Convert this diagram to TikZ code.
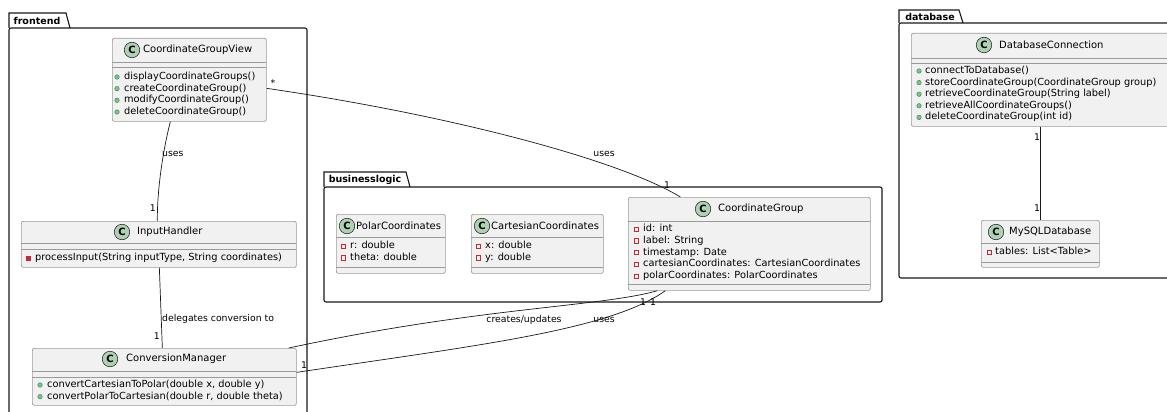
\documentclass[tikz,border=0pt]{standalone}
\usepackage{fontspec}
\setmainfont{DejaVu Sans}
\usetikzlibrary{calc}

\definecolor{clsfill}{HTML}{F1F1F1}
\definecolor{clsline}{HTML}{9A9A9A}
\definecolor{spotfill}{HTML}{ADD1B2}
\definecolor{pubfill}{HTML}{84BE84}
\definecolor{publine}{HTML}{038048}
\definecolor{privline}{HTML}{C82930}
\definecolor{linea}{HTML}{181818}

\begin{document}
\begin{tikzpicture}[x=1pt, y=-1pt,
    paquete/.style={draw=linea, line width=1.1},
    tablbl/.style={inner sep=0, font=\bfseries\fontsize{9.5}{11}\selectfont},
    clase/.style={draw=clsline, fill=clsfill, rounded corners=2, line width=0.7,
        inner sep=0, anchor=north west},
    sep/.style={draw=clsline, line width=0.7},
    spot/.style={circle, fill=spotfill, draw=linea, line width=0.5, minimum size=15.5,
        inner sep=0, font=\bfseries\fontsize{10}{10}\selectfont},
    titulo/.style={anchor=west, inner sep=0, font=\fontsize{10}{12}\selectfont},
    miembro/.style={anchor=west, inner sep=0, text height=7pt, text depth=2pt,
        font=\fontsize{9.8}{11}\selectfont},
    pub/.style={circle, fill=pubfill, draw=publine, line width=0.3, minimum size=4.6, inner sep=0},
    privf/.style={rectangle, draw=privline, line width=0.6, minimum size=4.4, inner sep=0},
    privm/.style={rectangle, fill=privline, draw=privline, line width=0.3, minimum size=4.6, inner sep=0},
    rel/.style={draw=linea, line width=0.7},
    lbl/.style={inner sep=0, font=\fontsize{9.3}{10}\selectfont}]

\useasboundingbox (0,0) rectangle (1167,412);

% Paquetes
\draw[paquete] (9,28) -- (9,13) -- (66,13) -- (70,28);
\draw[paquete, rounded corners=2] (9,430) -- (9,28) -- (307,28) -- (307,430);
\node[tablbl] (tabfe) at (37,21) {frontend};

\draw[paquete] (324,187) -- (324,172) -- (406,172) -- (410,187);
\draw[paquete, rounded corners=2] (324,187) rectangle (882,302);
\node[tablbl] (tabbl) at (365,180) {businesslogic};

\draw[paquete] (899,23) -- (899,10) -- (959,10) -- (963,23);
\draw[paquete, rounded corners=2] (1180,278) -- (899,278) -- (899,23) -- (1180,23);
\node[tablbl] (tabdb) at (930,17) {database};

% frontend
\node[clase, minimum width=154, minimum height=83] (cgv) at (112,38) {};
\draw[sep] (112,62) -- (266,62) (112,67) -- (266,67);
\node[spot] at (132,50) {C};
\node[titulo] at (143,50) {CoordinateGroupView};
\foreach \m [count=\i from 0] in {displayCoordinateGroups(),createCoordinateGroup(),modifyCoordinateGroup(),deleteCoordinateGroup()} {
    \node[pub] at (117,77+11.67*\i) {};
    \node[miembro] at (124,77+11.67*\i) {\m};
}

\node[clase, minimum width=275, minimum height=46] (ih) at (21,221) {};
\draw[sep] (21,243) -- (296,243) (21,249) -- (296,249);
\node[spot] at (122,232) {C};
\node[titulo] at (137,232) {InputHandler};
\node[privm] at (28,258) {};
\node[miembro] at (35,258) {processInput(String inputType, String coordinates)};

\node[clase, minimum width=264, minimum height=57] (cm) at (32,348) {};
\draw[sep] (32,371) -- (296,371) (32,377) -- (296,377);
\node[spot] at (110,359) {C};
\node[titulo] at (126,359) {ConversionManager};
\foreach \m [count=\i from 0] in {{convertCartesianToPolar(double x, double y)},{convertPolarToCartesian(double r, double theta)}} {
    \node[pub] at (40,385+11.67*\i) {};
    \node[miembro] at (47,385+11.67*\i) {\m};
}

% businesslogic
\node[clase, minimum width=109, minimum height=59] (pc) at (336,214) {};
\draw[sep] (336,237) -- (445,237) (336,267) -- (445,267);
\node[spot] at (347,226) {C};
\node[titulo] at (356,226) {PolarCoordinates};
\foreach \m [count=\i from 0] in {r: double,theta: double} {
    \node[privf] at (343,246+11.67*\i) {};
    \node[miembro] at (350,246+11.67*\i) {\m};
}

\node[clase, minimum width=132, minimum height=59] (cc) at (471,214) {};
\draw[sep] (471,237) -- (603,237) (471,267) -- (603,267);
\node[spot] at (482,226) {C};
\node[titulo] at (491,226) {CartesianCoordinates};
\foreach \m [count=\i from 0] in {x: double,y: double} {
    \node[privf] at (478,246+11.67*\i) {};
    \node[miembro] at (485,246+11.67*\i) {\m};
}

\node[clase, minimum width=242, minimum height=93] (cg) at (628,197) {};
\draw[sep] (628,221) -- (870,221) (628,284) -- (870,284);
\node[spot] at (703,209) {C};
\node[titulo] at (718,209) {CoordinateGroup};
\foreach \m [count=\i from 0] in {id: int,label: String,timestamp: Date,cartesianCoordinates: CartesianCoordinates,polarCoordinates: PolarCoordinates} {
    \node[privf] at (636,229+11.75*\i) {};
    \node[miembro] at (643,229+11.75*\i) {\m};
}

% database
\node[clase, minimum width=262, minimum height=93] (dbc) at (911,33) {};
\draw[sep] (911,58) -- (1173,58) (911,63) -- (1173,63);
\node[spot] at (984,45) {C};
\node[titulo] at (999,45) {DatabaseConnection};
\foreach \m [count=\i from 0] in {connectToDatabase(),storeCoordinateGroup(CoordinateGroup group),retrieveCoordinateGroup(String label),retrieveAllCoordinateGroups(),deleteCoordinateGroup(int id)} {
    \node[pub] at (919,71+11.6*\i) {};
    \node[miembro] at (925,71+11.6*\i) {\m};
}

\node[clase, minimum width=118, minimum height=47] (my) at (981,220) {};
\draw[sep] (981,243) -- (1099,243) (981,262) -- (1099,262);
\node[spot] at (996,232) {C};
\node[titulo] at (1009,232) {MySQLDatabase};
\node[privf] at (989,252) {};
\node[miembro] at (995,252) {tables: List<Table>};

% Relaciones
\draw[rel] ([xshift=-19pt]cgv.south) .. controls (163,150) and (157,190) .. ([xshift=-1.5pt]ih.north);
\node[lbl, anchor=west] (u1) at (162,154) {uses};
\node[lbl, anchor=east] (m1) at (156,208) {1};

\draw[rel] ([xshift=0.5pt]ih.south) -- ([xshift=-2pt]cm.north);
\node[lbl, anchor=west] (u2) at (162,319) {delegates conversion to};
\node[lbl, anchor=east] (m2) at (160,336) {1};

\draw[rel] ([yshift=-8.5pt]cgv.east) .. controls (450,115) and (620,160) .. ([xshift=-69pt]cg.north);
\node[lbl] (m3a) at (273,83) {*};
\node[lbl] (u3) at (604,154) {uses};
\node[lbl] (m3b) at (667,185) {1};

\draw[rel] ([xshift=-8pt]cm.north east) .. controls (480,307) and (600,307) .. ([xshift=-92pt]cg.south);
\node[lbl] (u4) at (524,320) {creates/updates};
\node[lbl] (m4) at (643,302) {1};

\draw[rel] ([yshift=4.5pt]cm.east) .. controls (480,345) and (610,330) .. ([xshift=-84pt]cg.south);
\node[lbl] (m5a) at (304,365) {1};
\node[lbl] (u5) at (604,320) {uses};
\node[lbl] (m5b) at (653,302) {1};

\draw[rel] (my.north |- dbc.south) -- (my.north);
\node[lbl] (m6a) at (1037,137) {1};
\node[lbl] (m6b) at (1037,208) {1};

\end{tikzpicture}
\end{document}
